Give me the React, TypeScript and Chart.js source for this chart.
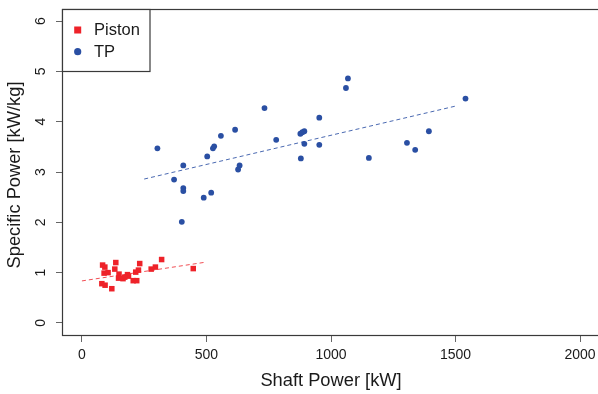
import React, { useEffect, useRef } from "react";
import { Chart, registerables } from "chart.js";
Chart.register(...registerables);

const pistonX = [83, 92, 136, 89, 105, 132, 149, 147, 165, 183, 187, 172, 206, 220, 216, 227, 232, 278, 295, 320, 447, 80, 93, 120];
const pistonY = [1.15, 1.11, 1.2, 0.99, 1.0, 1.07, 0.97, 0.89, 0.88, 0.96, 0.93, 0.91, 0.84, 0.84, 1.01, 1.05, 1.18, 1.07, 1.11, 1.26, 1.08, 0.78, 0.75, 0.68];
const tpX = [303, 1068, 1060, 733, 953, 615, 558, 780, 877, 885, 893, 893, 953, 531, 526, 503, 407, 633, 627, 879, 1152, 370, 407, 407, 519, 489, 401, 1540, 1393, 1305, 1338];
const tpY = [3.47, 4.86, 4.67, 4.27, 4.08, 3.84, 3.72, 3.64, 3.76, 3.79, 3.81, 3.56, 3.54, 3.51, 3.47, 3.31, 3.13, 3.13, 3.05, 3.27, 3.28, 2.85, 2.68, 2.62, 2.59, 2.49, 2.01, 4.46, 3.81, 3.58, 3.44];
const pistonTrendX = [0, 500];
const pistonTrendY = [0.835, 1.21];
const tpTrendX = [250, 1500];
const tpTrendY = [2.86, 4.31];
const xTicks = [0, 500, 1000, 1500, 2000];
const yTicks = [0, 1, 2, 3, 4, 5, 6];
const seriesNames = ["Piston", "TP"];
const xTitle = "Shaft Power [kW]";
const yTitle = "Specific Power [kW/kg]";

const RED = "#ee2229";
const BLUE = "#2a4fa3";
const FONT = "'Liberation Sans', Arial, sans-serif";

const pts = (xs: number[], ys: number[]) => xs.map((x, i) => ({ x, y: ys[i] }));

const framePlugin = {
  id: "frame",
  afterDraw(chart: any) {
    const { ctx, chartArea: a, scales } = chart;
    const xs = scales.x;
    const ys = scales.y;
    ctx.save();
    ctx.strokeStyle = "#3a3a3a";
    ctx.lineWidth = 1.2;
    ctx.strokeRect(a.left + 0.5, a.top + 0.5, a.right - a.left, a.bottom - a.top);
    ctx.fillStyle = "#1a1a1a";
    ctx.font = `14px ${FONT}`;
    ctx.textAlign = "center";
    ctx.textBaseline = "middle";
    xTicks.forEach((v) => {
      ctx.fillText(String(v), xs.getPixelForValue(v), 355.5);
    });
    yTicks.forEach((v) => {
      ctx.save();
      ctx.translate(41, ys.getPixelForValue(v));
      ctx.rotate(-Math.PI / 2);
      ctx.fillText(String(v), 0, 0);
      ctx.restore();
    });
    ctx.font = `18.3px ${FONT}`;
    ctx.fillText(xTitle, (a.left + a.right) / 2, 381);
    ctx.save();
    ctx.translate(15, (a.top + a.bottom) / 2 + 3);
    ctx.rotate(-Math.PI / 2);
    ctx.fillText(yTitle, 0, 0);
    ctx.restore();
    ctx.fillStyle = "#fff";
    ctx.fillRect(a.left + 0.5, a.top + 0.5, 87.5, 62);
    ctx.strokeStyle = "#3a3a3a";
    ctx.lineWidth = 1.2;
    ctx.strokeRect(a.left + 0.5, a.top + 0.5, 87.5, 62);
    ctx.fillStyle = RED;
    ctx.fillRect(74.2, 26.5, 7, 7);
    ctx.fillStyle = BLUE;
    ctx.beginPath();
    ctx.arc(77.7, 51.7, 3.6, 0, Math.PI * 2);
    ctx.fill();
    ctx.fillStyle = "#1a1a1a";
    ctx.font = `16.5px ${FONT}`;
    ctx.textAlign = "left";
    ctx.fillText(seriesNames[0], 94, 30.5);
    ctx.fillText(seriesNames[1], 94, 52);
    ctx.restore();
  },
};

export default function App() {
  const ref = useRef<HTMLCanvasElement>(null);
  useEffect(() => {
    const chart = new Chart(ref.current!, {
      type: "scatter",
      data: {
        datasets: [
          {
            label: seriesNames[0],
            data: pts(pistonX, pistonY),
            pointStyle: "rect",
            pointRadius: 3.9,
            backgroundColor: RED,
            pointBackgroundColor: RED,
            pointBorderWidth: 0,
            borderWidth: 0,
          },
          {
            label: seriesNames[1],
            data: pts(tpX, tpY),
            pointStyle: "circle",
            pointRadius: 2.9,
            backgroundColor: BLUE,
            pointBackgroundColor: BLUE,
            pointBorderWidth: 0,
            borderWidth: 0,
          },
          {
            label: "piston trend",
            type: "line",
            data: pts(pistonTrendX, pistonTrendY),
            borderColor: "rgba(238,34,41,0.8)",
            borderWidth: 1,
            borderDash: [4, 3],
            pointRadius: 0,
            fill: false,
          },
          {
            label: "tp trend",
            type: "line",
            data: pts(tpTrendX, tpTrendY),
            borderColor: "rgba(42,79,163,0.85)",
            borderWidth: 1,
            borderDash: [4, 3],
            pointRadius: 0,
            fill: false,
          },
        ],
      } as any,
      options: {
        animation: false,
        responsive: false,
        devicePixelRatio: 1,
        layout: { padding: { top: 9, right: 2, bottom: 0, left: 0 } },
        plugins: { legend: { display: false }, tooltip: { enabled: false } },
        scales: {
          x: {
            type: "linear",
            min: -80,
            max: 2080,
            afterBuildTicks: (s: any) => {
              s.ticks = xTicks.map((v) => ({ value: v }));
            },
            afterFit: (s: any) => {
              s.height = 59;
            },
            ticks: { display: false },
            border: { display: false },
            grid: { drawOnChartArea: false, drawTicks: true, tickLength: 7, color: "#666", lineWidth: 1 },
          },
          y: {
            type: "linear",
            min: -0.24,
            max: 6.24,
            afterBuildTicks: (s: any) => {
              s.ticks = yTicks.map((v) => ({ value: v }));
            },
            afterFit: (s: any) => {
              s.width = 62;
            },
            ticks: { display: false },
            border: { display: false },
            grid: { drawOnChartArea: false, drawTicks: true, tickLength: 6, color: "#666", lineWidth: 1 },
          },
        },
      } as any,
      plugins: [framePlugin],
    });
    return () => chart.destroy();
  }, []);
  return (
    <div style={{ position: "fixed", left: 0, top: 0, width: 604, height: 394, background: "#fff" }}>
      <canvas ref={ref} width={604} height={394} style={{ display: "block" }} />
    </div>
  );
}
